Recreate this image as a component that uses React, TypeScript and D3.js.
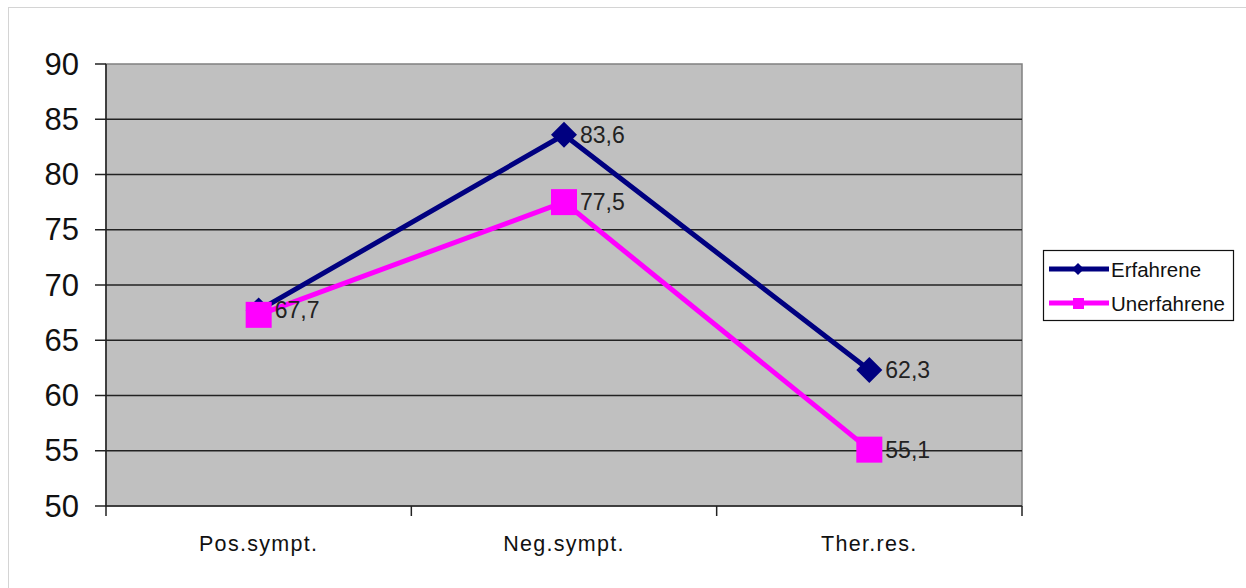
import React from "react";
import * as d3 from "d3";

const categories = ["Pos.sympt.", "Neg.sympt.", "Ther.res."];
const erfahrene = [67.7, 83.6, 62.3];
const unerfahrene = [67.3, 77.5, 55.1];
const erfahreneShowLabel = [true, true, true];
const unerfahreneShowLabel = [false, true, true];
const yTicks = [50, 55, 60, 65, 70, 75, 80, 85, 90];
const seriesNames = ["Erfahrene", "Unerfahrene"];

const W = 1246;
const H = 588;
const plot = { left: 106, right: 1022, top: 64, bottom: 506 };

export default function App() {
  const x = d3.scaleBand().domain(categories).range([plot.left, plot.right]);
  const y = d3.scaleLinear().domain([50, 90]).range([plot.bottom, plot.top]);
  const cx = (c: string) => (x(c) as number) + x.bandwidth() / 2;
  const line = d3
    .line<[string, number]>()
    .x((d) => cx(d[0]))
    .y((d) => y(d[1]));
  const eData: [string, number][] = categories.map((c, i) => [c, erfahrene[i]]);
  const uData: [string, number][] = categories.map((c, i) => [c, unerfahrene[i]]);
  const navy = "#000080";
  const mag = "#FF00FF";
  const font = "'Liberation Sans', Arial, sans-serif";
  const diamond = (px: number, py: number, r: number) =>
    `M${px},${py - r}L${px + r},${py}L${px},${py + r}L${px - r},${py}Z`;
  const xTickPos = [plot.left, ...categories.map((c) => (x(c) as number) + x.bandwidth())];

  return (
    <svg
      width={W}
      height={H}
      style={{ position: "absolute", left: 0, top: 0, background: "#fff" }}
      fontFamily={font}
    >
      <rect x={8.5} y={7.5} width={1260} height={620} fill="#fff" stroke="#d4d4d4" strokeWidth={1} />
      <rect
        x={plot.left}
        y={plot.top}
        width={plot.right - plot.left}
        height={plot.bottom - plot.top}
        fill="#C0C0C0"
        stroke="#808080"
        strokeWidth={1.5}
      />
      {yTicks.map((t) => (
        <g key={t}>
          {t !== 90 && t !== 50 && (
            <line x1={plot.left} x2={plot.right} y1={y(t)} y2={y(t)} stroke="#222" strokeWidth={1.5} />
          )}
          <line x1={plot.left - 11} x2={plot.left} y1={y(t)} y2={y(t)} stroke="#222" strokeWidth={1.5} />
          <text
            x={79}
            y={y(t)}
            textAnchor="end"
            dominantBaseline="central"
            fontSize={31}
            fill="#111"
          >
            {t}
          </text>
        </g>
      ))}
      <line x1={plot.left} x2={plot.left} y1={plot.top} y2={plot.bottom} stroke="#222" strokeWidth={1.5} />
      <line x1={plot.left} x2={plot.right} y1={plot.bottom} y2={plot.bottom} stroke="#222" strokeWidth={1.5} />
      {xTickPos.map((p, i) => (
        <line key={i} x1={p} x2={p} y1={plot.bottom} y2={plot.bottom + 10} stroke="#222" strokeWidth={1.5} />
      ))}
      {categories.map((c) => (
        <text
          key={c}
          x={cx(c)}
          y={551}
          textAnchor="middle"
          fontSize={21.5}
          letterSpacing={1.3}
          fill="#111"
        >
          {c}
        </text>
      ))}
      <path d={line(eData) || ""} fill="none" stroke={navy} strokeWidth={5} />
      {eData.map((d, i) => (
        <path key={"ed" + i} d={diamond(cx(d[0]), y(d[1]), 13)} fill={navy} />
      ))}
      <path d={line(uData) || ""} fill="none" stroke={mag} strokeWidth={5} />
      {uData.map((d, i) => (
        <rect key={"us" + i} x={cx(d[0]) - 13} y={y(d[1]) - 13} width={26} height={26} fill={mag} />
      ))}
      {eData.map((d, i) =>
        erfahreneShowLabel[i] ? (
          <text key={"el" + i} x={cx(d[0]) + 16} y={y(d[1])} dominantBaseline="central" fontSize={23} fill="#222">
            {String(d[1]).replace(".", ",")}
          </text>
        ) : null
      )}
      {uData.map((d, i) =>
        unerfahreneShowLabel[i] ? (
          <text key={"ul" + i} x={cx(d[0]) + 16} y={y(d[1])} dominantBaseline="central" fontSize={23} fill="#222">
            {String(d[1]).replace(".", ",")}
          </text>
        ) : null
      )}
      <rect x={1043.5} y={250.5} width={190} height={70} fill="#fff" stroke="#111" strokeWidth={1.2} />
      {seriesNames.map((n, i) => {
        const ly = 269 + i * 34;
        const col = i === 0 ? navy : mag;
        return (
          <g key={n}>
            <line x1={1049} x2={1109} y1={ly} y2={ly} stroke={col} strokeWidth={5} />
            {i === 0 ? (
              <path d={diamond(1078, ly, 6)} fill={col} />
            ) : (
              <rect x={1073} y={ly - 5} width={11} height={11} fill={col} />
            )}
            <text x={1111} y={ly} dominantBaseline="central" fontSize={20.5} fill="#111">
              {n}
            </text>
          </g>
        );
      })}
    </svg>
  );
}
